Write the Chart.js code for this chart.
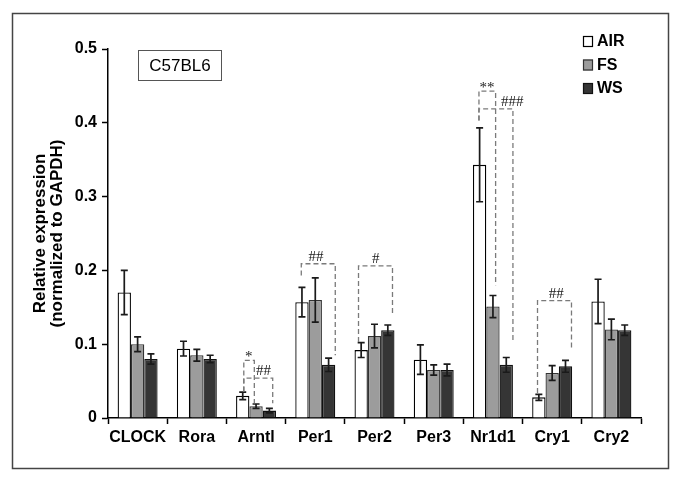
<!DOCTYPE html>
<html>
<head>
<meta charset="utf-8">
<script src="https://cdn.jsdelivr.net/npm/chart.js@4.4.0/dist/chart.umd.min.js"></script>
<style>
  html, body { margin: 0; padding: 0; background: #fff; }
  #wrap { width: 679px; height: 482px; }
</style>
</head>
<body>
<div id="wrap"><canvas id="chart" width="679" height="482"></canvas></div>
<script>
// Data
const genes = ['CLOCK', 'Rora', 'Arntl', 'Per1', 'Per2', 'Per3', 'Nr1d1', 'Cry1', 'Cry2'];
const groups = ['AIR', 'FS', 'WS'];
const airValues = [0.170, 0.094, 0.030, 0.157, 0.092, 0.079, 0.343, 0.028, 0.158];
const fsValues  = [0.100, 0.085, 0.016, 0.160, 0.111, 0.065, 0.151, 0.061, 0.120];
const wsValues  = [0.080, 0.080, 0.010, 0.072, 0.119, 0.065, 0.072, 0.070, 0.119];
const airErrors = [0.030, 0.010, 0.005, 0.020, 0.010, 0.020, 0.050, 0.004, 0.030];
const fsErrors  = [0.010, 0.008, 0.003, 0.030, 0.016, 0.007, 0.015, 0.010, 0.014];
const wsErrors  = [0.007, 0.005, 0.003, 0.009, 0.007, 0.008, 0.010, 0.008, 0.007];
const yTickLabels = ['0', '0.1', '0.2', '0.3', '0.4', '0.5'];
const strainLabel = 'C57BL6';

// Significance brackets. from/to/markAt are in bar widths from the group centre
// (AIR = -1, FS = 0, WS = 1), level and leg ends are expression values.
const brackets = [
    { gene: 'Arntl', mark: '*',   markAt: -0.55, level: 0.078, from: -0.92, fromEnd: 0.036, to: -0.13, toEnd: 0.020 },
    { gene: 'Arntl', mark: '##',  markAt: 0.55,  level: 0.054, from: -0.92, fromEnd: 0.036, to: 1.25,  toEnd: 0.020 },
    { gene: 'Per1',  mark: '##',  markAt: 0.05,  level: 0.209, from: -1.05, fromEnd: 0.193, to: 1.5,   toEnd: 0.085 },
    { gene: 'Per2',  mark: '#',   markAt: 0.1,   level: 0.206, from: -1.2,  fromEnd: 0.103, to: 1.35,  toEnd: 0.139 },
    { gene: 'Nr1d1', mark: '**',  markAt: -0.45, level: 0.443, from: -1.05, fromEnd: 0.403, to: 0.2,   toEnd: 0.180 },
    { gene: 'Nr1d1', mark: '###', markAt: 1.45,  level: 0.419, from: -1.05, fromEnd: 0.403, to: 1.5,   toEnd: 0.103 },
    { gene: 'Cry1',  mark: '##',  markAt: 0.3,   level: 0.159, from: -1.1,  fromEnd: 0.034, to: 1.45,  toEnd: 0.093 }
];

const FONT = "'Liberation Sans', Arial, sans-serif";
Chart.defaults.font.family = FONT;
Chart.defaults.color = '#000';


// Plugins
const frame = {
    id: 'frame',
    beforeDraw(chart) {
        const ctx = chart.ctx;
        ctx.save();
        ctx.fillStyle = '#fff';
        ctx.fillRect(0, 0, chart.width, chart.height);
        ctx.strokeStyle = '#444';
        ctx.lineWidth = 1.5;
        ctx.strokeRect(12.5, 13.5, 656, 455);
        ctx.restore();
    }
};

const errorBars = {
    id: 'errorBars',
    afterDatasetsDraw(chart) {
        const ctx = chart.ctx;
        const y = chart.scales.y;
        ctx.save();
        ctx.strokeStyle = '#1a1a1a';
        ctx.lineWidth = 1.7;
        chart.data.datasets.forEach((ds, i) => {
            chart.getDatasetMeta(i).data.forEach((bar, j) => {
                const top = y.getPixelForValue(ds.data[j] + ds.errors[j]);
                const bot = y.getPixelForValue(ds.data[j] - ds.errors[j]);
                ctx.beginPath();
                ctx.moveTo(bar.x, top);
                ctx.lineTo(bar.x, bot);
                ctx.moveTo(bar.x - 3.5, top);
                ctx.lineTo(bar.x + 3.5, top);
                ctx.moveTo(bar.x - 3.5, bot);
                ctx.lineTo(bar.x + 3.5, bot);
                ctx.stroke();
            });
        });
        ctx.restore();
    }
};

const sigBrackets = {
    id: 'sigBrackets',
    afterDatasetsDraw(chart) {
        const ctx = chart.ctx;
        const y = chart.scales.y;
        const mid = chart.getDatasetMeta(1).data;
        ctx.save();
        brackets.forEach(b => {
            const bar = mid[genes.indexOf(b.gene)];
            const px = o => bar.x + o * bar.width;
            const yl = y.getPixelForValue(b.level);
            ctx.strokeStyle = '#7a7a7a';
            ctx.lineWidth = 1.3;
            ctx.setLineDash([5, 3]);
            ctx.beginPath();
            ctx.moveTo(px(b.from), y.getPixelForValue(b.fromEnd));
            ctx.lineTo(px(b.from), yl);
            ctx.lineTo(px(b.to), yl);
            ctx.lineTo(px(b.to), y.getPixelForValue(b.toEnd));
            ctx.stroke();
            ctx.setLineDash([]);

            ctx.font = "15px 'Liberation Serif', serif";
            ctx.fillStyle = '#1a1a1a';
            ctx.textAlign = 'center';
            ctx.textBaseline = 'alphabetic';
            const m = ctx.measureText(b.mark);
            ctx.fillText(b.mark, px(b.markAt), yl - 3 - m.actualBoundingBoxDescent);
        });
        ctx.restore();
    }
};

const sideLegend = {
    id: 'sideLegend',
    afterDraw(chart) {
        const ctx = chart.ctx;
        ctx.save();
        chart.data.datasets.forEach((ds, i) => {
            const cy = 41 + i * 23.5;
            ctx.fillStyle = ds.backgroundColor;
            ctx.fillRect(583, cy - 5, 10, 11);
            ctx.strokeStyle = ds.borderColor;
            ctx.lineWidth = 1.2;
            ctx.strokeRect(583.5, cy - 4.5, 9, 10);
            ctx.fillStyle = '#000';
            ctx.font = 'bold 16px ' + FONT;
            ctx.textBaseline = 'middle';
            ctx.textAlign = 'left';
            ctx.fillText(ds.label, 597, cy + 1);
        });

        // strain label box
        ctx.strokeStyle = '#555';
        ctx.lineWidth = 1;
        ctx.strokeRect(138.5, 50.5, 83, 30);
        ctx.fillStyle = '#000';
        ctx.font = '17px ' + FONT;
        ctx.textAlign = 'center';
        ctx.textBaseline = 'middle';
        ctx.fillText(strainLabel, 180, 66.5);
        ctx.restore();
    }
};


// Chart
new Chart(document.getElementById('chart'), {
    type: 'bar',
    data: {
        labels: genes,
        datasets: [
            { label: groups[0], data: airValues, errors: airErrors, backgroundColor: '#ffffff', borderColor: '#000000', borderWidth: 1.3 },
            { label: groups[1], data: fsValues, errors: fsErrors, backgroundColor: '#9c9c9c', borderColor: '#333333', borderWidth: 1.3 },
            { label: groups[2], data: wsValues, errors: wsErrors, backgroundColor: '#353535', borderColor: '#111111', borderWidth: 1.3 }
        ]
    },
    options: {
        responsive: false,
        animation: false,
        devicePixelRatio: 1,
        layout: { padding: { left: 26, right: 38, top: 49, bottom: 20 } },
        datasets: { bar: { categoryPercentage: 0.675, barPercentage: 1.0 } },
        plugins: {
            legend: { display: false },
            tooltip: { enabled: false }
        },
        scales: {
            x: {
                ticks: { color: '#000', font: { size: 16, weight: 'bold' }, padding: 4, maxRotation: 0, autoSkip: false },
                grid: { drawOnChartArea: false, tickLength: 6, color: '#000', tickWidth: 1.5, offset: true },
                border: { color: '#000', width: 1.5 },
                afterFit: s => { s.height = 44; }
            },
            y: {
                min: 0,
                max: 0.5,
                ticks: {
                    stepSize: 0.1,
                    color: '#000',
                    font: { size: 16, weight: 'bold' },
                    padding: 5,
                    callback: (v, i) => yTickLabels[i]
                },
                grid: { drawOnChartArea: false, tickLength: 6, color: '#000', tickWidth: 1.5 },
                border: { color: '#000', width: 1.5 },
                title: {
                    display: true,
                    text: ['Relative expression', '(normalized to GAPDH)'],
                    color: '#000',
                    font: { size: 17, weight: 'bold', lineHeight: 1.0 },
                    padding: { top: 6, bottom: 0 }
                },
                afterFit: s => { s.width = 82; }
            }
        }
    },
    plugins: [frame, errorBars, sigBrackets, sideLegend]
});
</script>
</body>
</html>
